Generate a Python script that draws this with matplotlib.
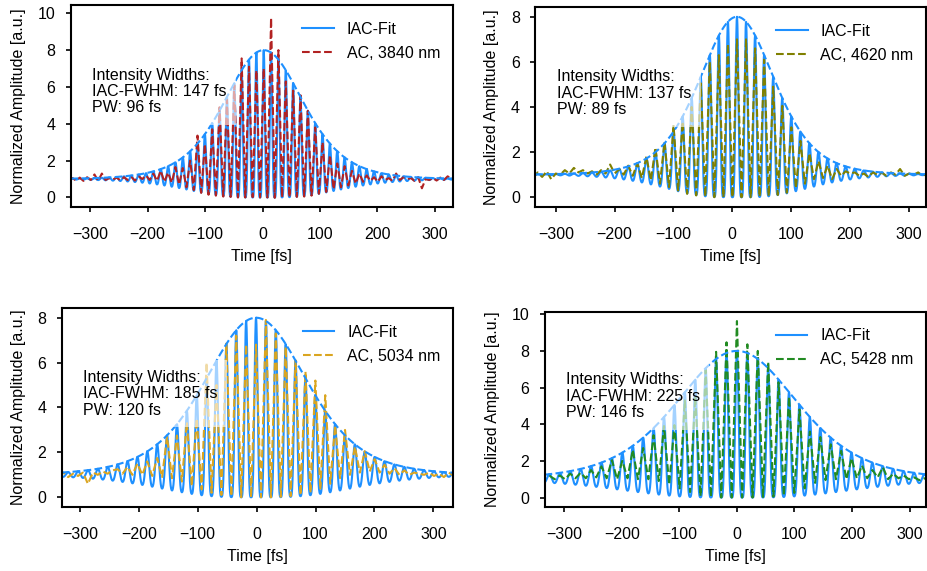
import numpy as np
import matplotlib
matplotlib.use("Agg")
import matplotlib.pyplot as plt

plt.rcParams['font.family'] = ['Liberation Sans', 'DejaVu Sans']
plt.rcParams['font.size'] = 11.5

C_NM_PER_FS = 299.792458  # speed of light [nm/fs]

# ---- fit parameters per measurement -------------------------------------
wavelengths_nm = [3840, 4620, 5034, 5428]
iac_fwhm_fs = [147, 137, 185, 225]
pulse_width_fs = [96, 89, 120, 146]
fit_center_fs = [2, 8, -1, 0]
ac_colors = ['firebrick', 'olive', 'goldenrod', 'forestgreen']

# ---- measured AC traces: fringe maxima / minima and background ----------
# index of the first listed fringe maximum (in fringe periods from centre)
ac_first_peak = [-16, -13, -14, -18]

ac1_left = [0.95, 1.05, 0.92, 1.08, 0.9, 1.1, 0.95, 1.25, 0.9, 1.3, 0.95,
            1.05, 0.97, 1.08, 0.93, 1.1, 0.95, 1.12, 0.92, 1.15, 1.0]
ac1_peaks = [1.2, 1.3, 1.45, 1.35, 1.65, 1.6, 2.0, 3.36, 2.9, 3.7, 4.9, 5.3,
             6.1, 7.55, 7.1, 6.9, 7.0, 9.75, 8.0, 6.3, 5.8, 5.55, 4.7, 3.8,
             3.0, 2.3, 1.85, 1.7, 1.45, 1.3, 1.2]
ac1_troughs = [0.95, 0.9, 0.85, 0.8, 0.7, 0.55, 0.4, 0.25, 0.15, 0.1, 0.05,
               0.03, 0.0, 0.0, 0.02, 0.0, 0.0, -0.02, 0.0, 0.02, 0.03, 0.05,
               0.1, 0.2, 0.3, 0.45, 0.55, 0.65, 0.75, 0.85]
ac1_right = [0.9, 1.1, 0.85, 1.15, 0.95, 1.05, 0.9, 1.3, 0.95, 1.1, 1.0, 1.05,
             0.9, 1.1, 0.5, 1.0, 0.95, 1.05, 0.92, 1.08, 0.95, 1.15, 1.0, 1.1]

ac2_left = [0.85, 1.1, 0.9, 1.15, 0.8, 1.05, 1.0, 1.2, 1.05, 1.3, 1.1, 1.2,
            1.05, 1.15, 1.0, 1.2, 1.05, 1.45, 1.05]
ac2_peaks = [1.25, 1.4, 1.5, 1.8, 2.2, 2.45, 3.2, 3.35, 4.0, 5.05, 6.0, 6.3,
             6.8, 7.0, 7.0, 6.6, 6.1, 4.9, 4.05, 3.1, 2.5, 1.95, 1.6, 1.4,
             1.25, 1.15]
ac2_troughs = [1.0, 0.95, 0.85, 0.75, 0.6, 0.45, 0.3, 0.15, 0.08, 0.03, 0.0,
               0.0, 0.0, 0.0, 0.0, 0.02, 0.05, 0.1, 0.2, 0.4, 0.6, 0.8, 0.85,
               0.8, 0.95]
ac2_right = [1.05, 1.1, 0.95, 1.05, 0.9, 1.1, 1.0, 1.08, 0.95, 1.1, 1.0, 1.25,
             0.95, 1.05, 1.0, 1.1, 0.95, 1.05, 1.0]

ac3_left = [1.0, 1.1, 0.9, 1.05, 0.95, 1.1, 0.6, 1.1, 1.0, 1.15, 1.05, 1.2]
ac3_peaks = [1.25, 1.35, 1.5, 1.6, 1.75, 2.7, 2.75, 3.35, 3.5, 6.0, 5.0, 6.85,
             7.2, 6.8, 6.8, 7.9, 7.3, 6.7, 6.1, 5.6, 5.2, 4.55, 3.2, 3.0,
             2.25, 2.05, 1.7, 1.45, 1.3, 1.2, 1.1]
ac3_troughs = [1.05, 1.0, 1.0, 0.95, 0.9, 0.85, 0.7, 0.5, 0.35, 0.2, 0.1,
               0.05, 0.0, 0.0, 0.0, 0.0, 0.02, 0.05, 0.1, 0.2, 0.35, 0.6,
               0.85, 1.0, 1.1, 1.15, 1.1, 1.05, 1.0, 1.0]
ac3_right = [1.05, 1.0, 1.1, 0.95, 1.05, 0.9, 1.1, 0.95, 1.0]

ac4_left = [1.1, 1.25]
ac4_peaks = [1.2, 1.2, 1.3, 1.35, 1.5, 1.7, 2.05, 2.0, 2.6, 2.7, 3.4, 3.9,
             3.95, 5.3, 5.5, 6.96, 7.95, 8.47, 9.63, 8.36, 8.0, 7.4, 6.3, 5.5,
             4.8, 3.6, 3.3, 2.9, 2.55, 2.15, 1.75, 1.5, 1.65, 1.3, 1.2]
ac4_troughs = [1.0, 1.0, 1.05, 1.05, 1.1, 1.05, 1.0, 1.05, 1.0, 1.0, 0.9,
               0.7, 0.5, 0.3, 0.08, 0.03, 0.0, 0.0, 0.0, 0.0, 0.03, 0.05,
               0.1, 0.25, 0.5, 0.8, 0.95, 1.0, 1.0, 1.05, 1.05, 1.1, 1.0,
               1.05]
ac4_right = [1.0, 1.1, 0.95, 1.05, 0.9, 1.0]

ac_left = [ac1_left, ac2_left, ac3_left, ac4_left]
ac_peaks = [ac1_peaks, ac2_peaks, ac3_peaks, ac4_peaks]
ac_troughs = [ac1_troughs, ac2_troughs, ac3_troughs, ac4_troughs]
ac_right = [ac1_right, ac2_right, ac3_right, ac4_right]


def ac_trace(left, peaks, troughs, right, k_first, t0, period):
    """Measured trace through its listed extrema, spaced by half a fringe."""
    inner = np.empty(2 * len(peaks) - 1)
    inner[0::2] = peaks
    inner[1::2] = troughs
    values = np.concatenate([left, inner, right])
    idx = np.arange(values.size) + 2 * k_first - len(left)
    return t0 + idx * period / 2.0, values


def iac_fit(fwhm_ac, t0, wavelength, tmax=345.0, dt=0.25):
    """Interferometric autocorrelation of a transform-limited sech^2 pulse."""
    tau0 = fwhm_ac / (1.543 * 1.7627)
    t = np.arange(-1200.0, 1200.0 + dt / 2, dt)
    e = 1.0 / np.cosh(t / tau0)
    e2, e3, e4 = e ** 2, e ** 3, e ** 4
    s2 = np.correlate(e2, e2, 'full')
    s1 = np.correlate(e3, e, 'full') + np.correlate(e, e3, 'full')
    lags = (np.arange(s2.size) - (t.size - 1)) * dt
    keep = np.abs(lags) <= tmax
    lags, s1, s2 = lags[keep], s1[keep], s2[keep]
    norm = 2.0 * e4.sum()
    s0 = norm + 2.0 * s2
    phi = 2.0 * np.pi * C_NM_PER_FS * lags / wavelength
    iac = (s0 + 4.0 * s1 * np.cos(phi) + 4.0 * s2 * np.cos(phi) ** 2) / norm
    env = (s0 + 4.0 * s1 + 4.0 * s2) / norm
    return lags + t0, iac, env


W, H = 927, 571
fig = plt.figure(figsize=(W / 100, H / 100), dpi=100)

# axes boxes in pixels: left, right, top, bottom
boxes = [(70.7, 452.7, 5.0, 206.7),
         (535.3, 926.3, 7.3, 206.7),
         (61.7, 453.3, 308.3, 506.7),
         (544.7, 926.3, 311.7, 506.7)]
ylims = [(-0.5, 10.45), (-0.42, 8.42), (-0.42, 8.42), (-0.5, 10.14)]
xlims = [(-334, 331), (-335, 330), (-331, 334), (-334, 329)]

for i in range(4):
    l, r, t, b = boxes[i]
    ax = fig.add_axes([l / W, 1 - b / H, (r - l) / W, (b - t) / H])
    lam = wavelengths_nm[i]
    period = lam / C_NM_PER_FS
    tf, fit, env = iac_fit(iac_fwhm_fs[i], fit_center_fs[i], lam)
    ta, ac = ac_trace(ac_left[i], ac_peaks[i], ac_troughs[i], ac_right[i],
                      ac_first_peak[i], fit_center_fs[i], period)

    ax.plot(tf, fit, color='dodgerblue', lw=1.5, label='IAC-Fit', zorder=2)
    ax.plot(ta, ac, color=ac_colors[i], lw=1.5, ls='--',
            label=f'AC, {lam} nm', zorder=2.2)
    ax.plot(tf, env, color='dodgerblue', lw=1.5, ls='--', zorder=2.4)

    ax.set_xlim(*xlims[i])
    ax.set_ylim(*ylims[i])
    ax.set_xticks([-300, -200, -100, 0, 100, 200, 300])
    ax.set_xlabel('Time [fs]', labelpad=5)
    ax.set_ylabel('Normalized Amplitude [a.u.]', labelpad=8.5)
    for sp in ax.spines.values():
        sp.set_linewidth(1.5)
    ax.tick_params(width=1.2, length=3.5)
    ax.tick_params(axis='x', pad=11)
    ax.tick_params(axis='y', pad=7.5)

    ax.legend(loc='upper right', frameon=False, labelspacing=0.55,
              handlelength=2.0, borderaxespad=0.4,
              bbox_to_anchor=(1.0, 0.98))
    ax.text(0.055, 0.69,
            f'Intensity Widths:\nIAC-FWHM: {iac_fwhm_fs[i]} fs\n'
            f'PW: {pulse_width_fs[i]} fs',
            transform=ax.transAxes, va='top', ha='left', zorder=4,
            linespacing=1.12,
            bbox=dict(boxstyle='square,pad=0.6', facecolor='white',
                      edgecolor='none', alpha=0.6))

fig.savefig('out.png', dpi=100)
